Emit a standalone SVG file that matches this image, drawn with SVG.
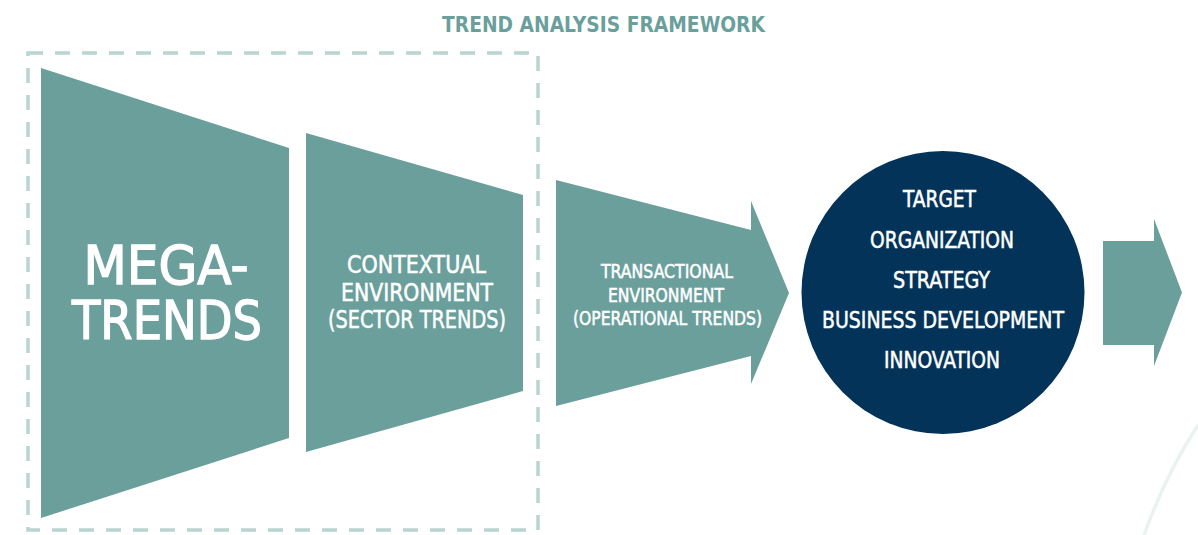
<svg xmlns="http://www.w3.org/2000/svg" width="1198" height="535" viewBox="0 0 1198 535">
  <style>
    .teal { fill: #6a9f9c; }
    .navy { fill: #033358; }
    .frame { fill: none; stroke: #b9d4d1; stroke-width: 3.5; stroke-dasharray: 15 12; }
    .lbl { fill: #ffffff; stroke: #ffffff; stroke-width: 0.5; font-family: "Liberation Sans Narrow", "DejaVu Sans Condensed", "Liberation Sans", sans-serif; text-anchor: middle; }
    .big { stroke-width: 1.3; }
    .title { fill: #6a9f9c; font-family: "Liberation Sans Narrow", "DejaVu Sans Condensed", "Liberation Sans", sans-serif; font-weight: bold; font-size: 20.5px; text-anchor: middle; }
  </style>

  <rect width="1198" height="535" fill="#ffffff"/>

  <!-- faint decorative arc, lower right -->
  <path d="M1198,425 Q1166,474 1144,535" fill="none" stroke="#eaf3f2" stroke-width="3.5"/>

  <text class="title" x="603.5" y="32" textLength="323" lengthAdjust="spacingAndGlyphs">TREND ANALYSIS FRAMEWORK</text>

  <!-- dashed grouping frame around the first two stages -->
  <rect id="frame" class="frame" x="28" y="53" width="510" height="477"/>

  <g id="megatrends">
    <polygon class="teal" points="41,68 289,148 289,438 41,518"/>
    <text class="lbl big" font-size="54" x="166" y="284" textLength="165" lengthAdjust="spacingAndGlyphs">MEGA-</text>
    <text class="lbl big" font-size="54" x="167" y="339" textLength="190" lengthAdjust="spacingAndGlyphs">TRENDS</text>
  </g>

  <g id="contextual">
    <polygon class="teal" points="306,133 523,195 523,391 306,452"/>
    <text class="lbl" font-size="25" x="416.5" y="273" textLength="139" lengthAdjust="spacingAndGlyphs">CONTEXTUAL</text>
    <text class="lbl" font-size="25" x="417" y="301" textLength="152" lengthAdjust="spacingAndGlyphs">ENVIRONMENT</text>
    <text class="lbl" font-size="25" x="417" y="328" textLength="178" lengthAdjust="spacingAndGlyphs">(SECTOR TRENDS)</text>
  </g>

  <g id="transactional">
    <polygon class="teal" points="556,180 751,230 751,201 789,293 751,384 751,356 556,406"/>
    <text class="lbl" font-size="19" x="667" y="278" textLength="132" lengthAdjust="spacingAndGlyphs">TRANSACTIONAL</text>
    <text class="lbl" font-size="19" x="666" y="302" textLength="116" lengthAdjust="spacingAndGlyphs">ENVIRONMENT</text>
    <text class="lbl" font-size="19" x="667.5" y="325" textLength="189" lengthAdjust="spacingAndGlyphs">(OPERATIONAL TRENDS)</text>
  </g>

  <g id="target">
    <circle class="navy" cx="943" cy="292.5" r="141.5"/>
    <text class="lbl" font-size="23" x="939.5" y="207" textLength="73" lengthAdjust="spacingAndGlyphs">TARGET</text>
    <text class="lbl" font-size="23" x="942" y="248" textLength="144" lengthAdjust="spacingAndGlyphs">ORGANIZATION</text>
    <text class="lbl" font-size="23" x="941.5" y="288" textLength="97" lengthAdjust="spacingAndGlyphs">STRATEGY</text>
    <text class="lbl" font-size="23" x="943" y="328" textLength="242" lengthAdjust="spacingAndGlyphs">BUSINESS DEVELOPMENT</text>
    <text class="lbl" font-size="23" x="942" y="368" textLength="116" lengthAdjust="spacingAndGlyphs">INNOVATION</text>
  </g>

  <g id="outcome">
    <polygon class="teal" points="1103,241 1154,241 1154,219 1182,292.5 1154,366 1154,345 1103,345"/>
  </g>

  <g id="connectors"></g>
</svg>
